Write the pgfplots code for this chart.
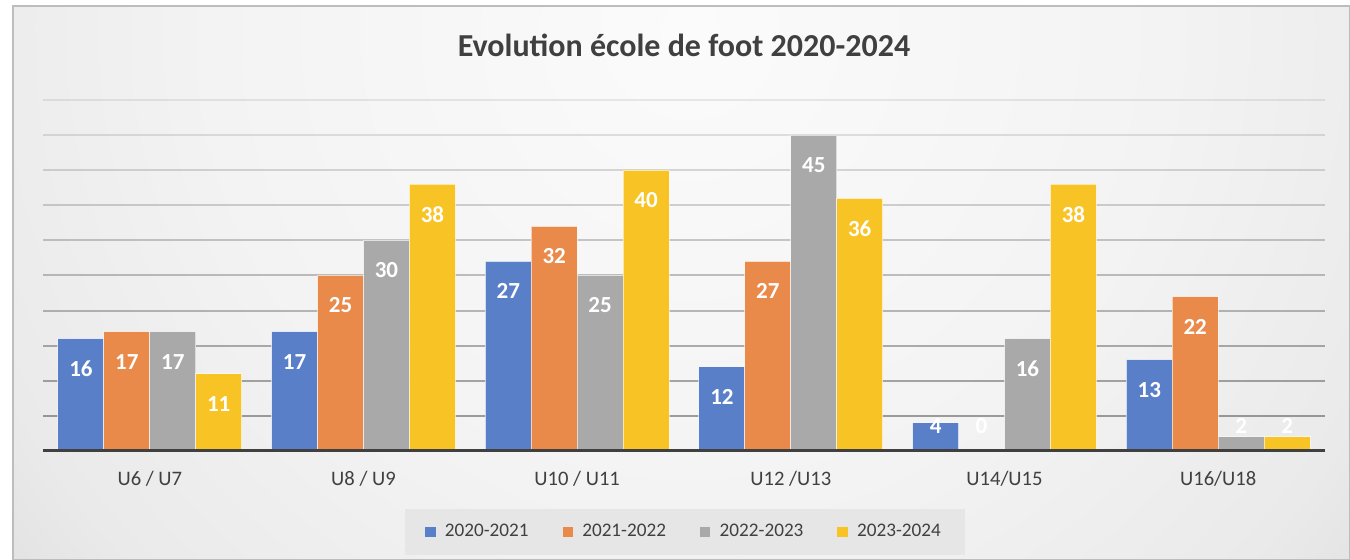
\documentclass[border=0pt]{standalone}
\usepackage{fontspec}
\setmainfont{Carlito}
\usepackage{pgfplots}
\pgfplotsset{compat=1.18}

\definecolor{serA}{HTML}{5A7FC9}
\definecolor{serB}{HTML}{E9894A}
\definecolor{serC}{HTML}{A9A9A9}
\definecolor{serD}{HTML}{F8C324}
\definecolor{txt}{HTML}{404040}
\definecolor{axisc}{HTML}{404040}
\definecolor{framec}{HTML}{BDBDBD}
\definecolor{legbg}{HTML}{E6E6E6}
\definecolor{bg0}{HTML}{FBFBFB}
\definecolor{bg1}{HTML}{F3F3F3}
\definecolor{bg2}{HTML}{EAEAEA}
\definecolor{bg3}{HTML}{DCDCDC}
\definecolor{bg4}{HTML}{CBCBCB}
\definecolor{bg5}{HTML}{C3C3C3}

\pgfdeclareradialshading{chartbg}{\pgfpointorigin}{%
  color(0bp)=(bg0); color(15bp)=(bg1); color(24bp)=(bg2);
  color(30bp)=(bg3); color(37bp)=(bg4); color(44bp)=(bg5); color(50bp)=(bg5)}

\begin{document}
\begin{tikzpicture}
\useasboundingbox (0pt,0pt) rectangle (675pt,280pt);
% chart area background
\begin{scope}
  \clip (6.5pt,0pt) rectangle (675pt,277pt);
  \shade[shading=chartbg] (-55pt,-135pt) rectangle (745pt,665pt);
\end{scope}
\draw[framec, line width=1pt] (6.5pt,0pt) rectangle (675pt,277pt);

\node[anchor=base, text=txt, font=\bfseries\fontsize{16}{19}\selectfont]
  at (342pt,251.5pt) {Evolution école de foot 2020-2024};

\begin{axis}[
  at={(21.5pt,54.5pt)}, anchor=south west,
  scale only axis, width=641pt, height=175.5pt,
  xmin=-0.5, xmax=5.5, ymin=0, ymax=50,
  ybar=0pt, bar width=0.215,
  axis on top,
  clip=false,
  axis y line=none,
  axis x line*=bottom,
  x axis line style={line width=1.5pt, color=axisc, -},
  xtick={0,...,5},
  xticklabels={U6 / U7, U8 / U9, U10 / U11, U12 /U13, U14/U15, U16/U18},
  major tick length=0pt,
  xticklabel style={font=\fontsize{10.3}{12}\selectfont, text=txt, anchor=base, yshift=-17.5pt},
  ytick=\empty,
  every axis plot/.append style={draw=white, draw opacity=0.6, line width=0.5pt},
  /pgf/number format/assume math mode=true,
  visualization depends on={y \as \rawy},
  nodes near coords,
  nodes near coords style={font=\bfseries\fontsize{11.5}{13}\selectfont, text=white,
    anchor=center, yshift={(max(\rawy-4.27,3.56)-\rawy)*3.51pt}},
  legend columns=4,
  legend style={at={(0.5008,-0.2308)}, anchor=center, draw=none, fill=legbg,
    font=\fontsize{9.6}{11}\selectfont, text=txt,
    inner xsep=10pt, inner ysep=5.5pt,
    /tikz/every even column/.append style={column sep=15pt}},
  legend image code/.code={\fill[#1, draw=none] (0pt,-2.6pt) rectangle (5.2pt,2.6pt);
    \path (7.6pt,0pt);},
]
% gridlines, darker towards the baseline
\draw[line width=1pt, black, opacity=0.36]  (axis cs:-0.5,5)  -- (axis cs:5.5,5);
\draw[line width=1pt, black, opacity=0.33]  (axis cs:-0.5,10) -- (axis cs:5.5,10);
\draw[line width=1pt, black, opacity=0.30]  (axis cs:-0.5,15) -- (axis cs:5.5,15);
\draw[line width=1pt, black, opacity=0.26]  (axis cs:-0.5,20) -- (axis cs:5.5,20);
\draw[line width=1pt, black, opacity=0.23]  (axis cs:-0.5,25) -- (axis cs:5.5,25);
\draw[line width=1pt, black, opacity=0.20]  (axis cs:-0.5,30) -- (axis cs:5.5,30);
\draw[line width=1pt, black, opacity=0.17]  (axis cs:-0.5,35) -- (axis cs:5.5,35);
\draw[line width=1pt, black, opacity=0.14]  (axis cs:-0.5,40) -- (axis cs:5.5,40);
\draw[line width=1pt, black, opacity=0.11]  (axis cs:-0.5,45) -- (axis cs:5.5,45);
\draw[line width=1pt, black, opacity=0.08]  (axis cs:-0.5,50) -- (axis cs:5.5,50);

\addplot[fill=serA] coordinates {(0,16) (1,17) (2,27) (3,12) (4,4) (5,13)};
\addplot[fill=serB] coordinates {(0,17) (1,25) (2,32) (3,27) (4,0) (5,22)};
\addplot[fill=serC] coordinates {(0,17) (1,30) (2,25) (3,45) (4,16) (5,2)};
\addplot[fill=serD] coordinates {(0,11) (1,38) (2,40) (3,36) (4,38) (5,2)};
\legend{2020-2021, 2021-2022, 2022-2023, 2023-2024}
\end{axis}
\end{tikzpicture}
\end{document}
